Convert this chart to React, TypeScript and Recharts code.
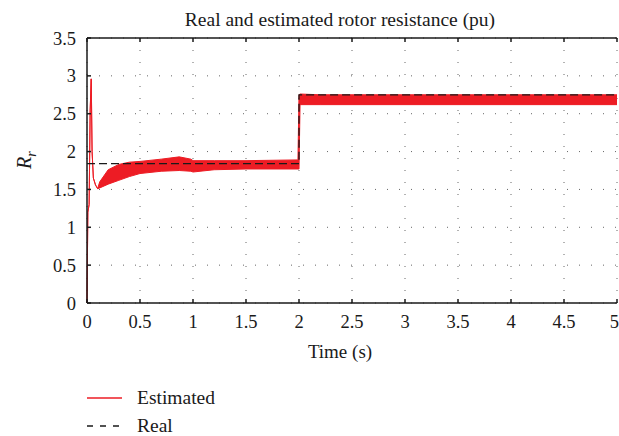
import { ComposedChart, Area, Line, XAxis, YAxis, CartesianGrid } from 'recharts'

// estimated Rr: time (s), lower and upper edge of the ripple band (pu)
const estTime = [0, 0.008, 0.02, 0.03, 0.04, 0.048, 0.06, 0.08, 0.1, 0.12, 0.2, 0.3, 0.4, 0.5, 0.7, 0.87, 0.98, 1.0, 1.2, 1.5, 1.99, 2.0, 2.01, 2.2, 2.5, 3, 3.5, 4, 4.5, 5]
const estLow = [0, 1.2, 1.3, 2.55, 2.96, 2.0, 1.65, 1.56, 1.51, 1.52, 1.57, 1.62, 1.67, 1.71, 1.74, 1.75, 1.74, 1.73, 1.76, 1.77, 1.77, 1.77, 2.62, 2.62, 2.62, 2.62, 2.62, 2.62, 2.62, 2.62]
const estHigh = [0, 1.2, 1.3, 2.55, 2.96, 2.0, 1.65, 1.56, 1.51, 1.6, 1.76, 1.83, 1.86, 1.87, 1.9, 1.93, 1.9, 1.88, 1.88, 1.88, 1.89, 2.75, 2.76, 2.75, 2.75, 2.75, 2.75, 2.75, 2.75, 2.75]

// real Rr (step at 2 s)
const realTime = [0, 2, 2, 5]
const realValue = [1.84, 1.84, 2.75, 2.75]

const xTicks = [0, 0.5, 1, 1.5, 2, 2.5, 3, 3.5, 4, 4.5, 5]
const yTicks = [0, 0.5, 1, 1.5, 2, 2.5, 3, 3.5]

const FONT = '"Liberation Serif", "DejaVu Serif", serif'
const RED = '#ed1c24'
const INK = '#1a1a1a'

const rows = [
  ...estTime.map((t, i) => ({ t, band: [estLow[i], estHigh[i]] })),
  ...realTime.map((t, i) => ({ t, real: realValue[i] })),
].sort((a, b) => a.t - b.t)

const tickStyle = { fill: INK, fontSize: 18.5, fontFamily: FONT }

export default function App() {
  return (
    <div style={{ position: 'absolute', left: 0, top: 0, width: 619, height: 436, background: '#fff' }}>
      <ComposedChart
        width={619}
        height={436}
        data={rows}
        margin={{ top: 8, right: 2, bottom: 73, left: 0 }}
      >
        <CartesianGrid stroke="#666" strokeDasharray="1 11" />
        <XAxis
          dataKey="t"
          type="number"
          domain={[0, 5]}
          ticks={xTicks}
          height={60}
          tick={tickStyle}
          tickSize={-4}
          tickMargin={16}
          stroke={INK}
          strokeWidth={1.5}
        />
        <XAxis
          xAxisId="top"
          orientation="top"
          dataKey="t"
          type="number"
          domain={[0, 5]}
          ticks={xTicks}
          height={30}
          tickSize={-4}
          tickFormatter={() => ''}
          stroke={INK}
          strokeWidth={1.5}
        />
        <YAxis
          type="number"
          domain={[0, 3.5]}
          ticks={yTicks}
          width={87}
          tick={tickStyle}
          tickSize={-4}
          tickMargin={15}
          stroke={INK}
          strokeWidth={1.5}
        />
        <YAxis
          yAxisId="right"
          orientation="right"
          type="number"
          domain={[0, 3.5]}
          ticks={yTicks}
          width={0}
          tickSize={-4}
          tickFormatter={() => ''}
          stroke={INK}
          strokeWidth={1.5}
        />
        <Area
          type="linear"
          dataKey="band"
          stroke={RED}
          strokeWidth={1}
          fill={RED}
          fillOpacity={1}
          connectNulls
          dot={false}
          activeDot={false}
          isAnimationActive={false}
        />
        <Line
          type="linear"
          dataKey="real"
          stroke={INK}
          strokeWidth={1.3}
          strokeDasharray="8 4"
          connectNulls
          dot={false}
          activeDot={false}
          isAnimationActive={false}
        />
      </ComposedChart>

      <svg
        width={619}
        height={436}
        style={{ position: 'absolute', left: 0, top: 0, pointerEvents: 'none' }}
        fontFamily={FONT}
        fill={INK}
      >
        <text x={340} y={26} fontSize={19.5} textAnchor="middle">Real and estimated rotor resistance (pu)</text>
        <text x={340} y={358} fontSize={19} textAnchor="middle">Time (s)</text>
        <text transform="translate(31,169) rotate(-90)" fontSize={20} fontStyle="italic">
          R<tspan fontSize={14} dy={5}>r</tspan>
        </text>

        {/* legend */}
        <line x1={87} y1={398} x2={122} y2={398} stroke={RED} strokeWidth={1.3} />
        <text x={137} y={404} fontSize={19.5}>Estimated</text>
        <line x1={87} y1={426} x2={122} y2={426} stroke={INK} strokeWidth={1.3} strokeDasharray="6 7" />
        <text x={137} y={432} fontSize={19.5}>Real</text>
      </svg>
    </div>
  )
}
